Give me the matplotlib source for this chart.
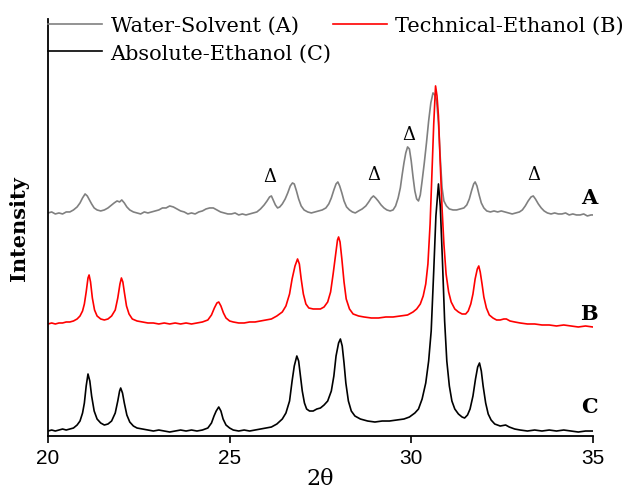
import matplotlib
matplotlib.use("Agg")
import matplotlib.pyplot as plt

# XRD patterns: (2-theta, intensity above own baseline, a.u.)
pattern_a = [
    (20.0, 0), (20.1, 1), (20.2, -1), (20.3, 0), (20.4, -1), (20.5, 1), (20.6, 1), (20.7, 3),
    (20.8, 6), (20.88, 10), (20.95, 15), (21.02, 19), (21.08, 17), (21.14, 13), (21.2, 9),
    (21.27, 5), (21.35, 3), (21.45, 2), (21.55, 3), (21.65, 5), (21.75, 8), (21.82, 10),
    (21.9, 12), (21.97, 11), (22.03, 13), (22.1, 10), (22.17, 6), (22.25, 3), (22.35, 1),
    (22.45, 0), (22.55, -1), (22.65, 1), (22.75, 0), (22.85, 1), (22.95, 2), (23.05, 3),
    (23.15, 5), (23.25, 5), (23.35, 7), (23.45, 6), (23.55, 4), (23.65, 2), (23.75, 1),
    (23.85, -1), (23.95, 0), (24.05, -1), (24.15, 1), (24.25, 2), (24.35, 4), (24.45, 5),
    (24.55, 5), (24.65, 3), (24.75, 1), (24.85, 0), (24.95, -1), (25.05, -1), (25.15, 0),
    (25.25, -2), (25.35, -1), (25.45, -2), (25.55, -1), (25.65, 0), (25.75, 1), (25.85, 4),
    (25.95, 8), (26.03, 12), (26.1, 16), (26.15, 17), (26.2, 13), (26.26, 8), (26.32, 5),
    (26.38, 6), (26.45, 9), (26.53, 14), (26.6, 20), (26.67, 27), (26.73, 30), (26.78, 29),
    (26.84, 22), (26.9, 14), (26.97, 7), (27.05, 3), (27.15, 1), (27.25, 0), (27.35, 1),
    (27.45, 2), (27.55, 3), (27.65, 5), (27.73, 9), (27.8, 15), (27.87, 23), (27.93, 29),
    (27.98, 31), (28.03, 27), (28.09, 20), (28.15, 12), (28.22, 6), (28.3, 3), (28.38, 1),
    (28.46, 0), (28.55, 2), (28.65, 4), (28.75, 7), (28.83, 11), (28.9, 15), (28.96, 17),
    (29.02, 15), (29.09, 12), (29.17, 8), (29.25, 5), (29.33, 3), (29.42, 2), (29.5, 3),
    (29.57, 7), (29.64, 15), (29.7, 25), (29.75, 38), (29.8, 50), (29.85, 60), (29.9, 66),
    (29.95, 64), (30.0, 52), (30.05, 36), (30.1, 22), (30.15, 14), (30.2, 12), (30.25, 18),
    (30.3, 32), (30.36, 50), (30.42, 70), (30.48, 92), (30.54, 110), (30.6, 120), (30.65, 118),
    (30.7, 112), (30.75, 90), (30.8, 55), (30.85, 25), (30.9, 12), (30.97, 7), (31.05, 4),
    (31.15, 3), (31.25, 3), (31.35, 4), (31.45, 5), (31.53, 8), (31.6, 14), (31.66, 22),
    (31.72, 29), (31.76, 31), (31.81, 27), (31.87, 18), (31.93, 10), (32.0, 5), (32.08, 2),
    (32.18, 1), (32.28, 2), (32.38, 1), (32.48, 2), (32.58, 1), (32.68, 0), (32.78, -1),
    (32.88, 0), (32.98, 1), (33.06, 3), (33.14, 7), (33.22, 12), (33.3, 16), (33.36, 17),
    (33.42, 14), (33.5, 9), (33.58, 5), (33.66, 2), (33.75, 0), (33.85, -1), (33.95, 0),
    (34.05, -1), (34.15, -1), (34.25, 0), (34.35, -2), (34.45, -1), (34.55, -2), (34.65, -2),
    (34.75, -1), (34.85, -3), (34.95, -2), (35.0, -2),
]

pattern_b = [
    (20.0, 0), (20.1, 1), (20.2, 0), (20.3, 1), (20.4, 1), (20.5, 2), (20.6, 2), (20.7, 3),
    (20.8, 5), (20.88, 8), (20.95, 13), (21.0, 20), (21.05, 32), (21.1, 46), (21.13, 49),
    (21.17, 42), (21.22, 26), (21.28, 14), (21.35, 8), (21.45, 5), (21.55, 4), (21.65, 5),
    (21.75, 8), (21.85, 14), (21.92, 26), (21.98, 40), (22.02, 46), (22.06, 42), (22.1, 32),
    (22.16, 18), (22.23, 10), (22.32, 5), (22.45, 3), (22.6, 2), (22.75, 1), (22.9, 1),
    (23.05, 0), (23.2, 1), (23.35, 0), (23.5, 1), (23.65, 0), (23.8, 1), (23.95, 0),
    (24.1, 1), (24.25, 2), (24.4, 4), (24.5, 9), (24.58, 16), (24.65, 21), (24.7, 22),
    (24.76, 18), (24.83, 11), (24.9, 6), (25.0, 3), (25.1, 2), (25.25, 1), (25.4, 1),
    (25.55, 2), (25.7, 2), (25.85, 3), (26.0, 4), (26.15, 5), (26.3, 8), (26.45, 12),
    (26.55, 18), (26.65, 30), (26.72, 45), (26.8, 58), (26.87, 65), (26.92, 60), (26.97, 45),
    (27.03, 30), (27.1, 20), (27.18, 16), (27.3, 15), (27.4, 15), (27.5, 15), (27.6, 17),
    (27.7, 22), (27.78, 32), (27.85, 50), (27.92, 70), (27.97, 84), (28.0, 87), (28.04, 82),
    (28.09, 65), (28.15, 42), (28.21, 25), (28.3, 15), (28.4, 10), (28.55, 8), (28.7, 7),
    (28.9, 6), (29.1, 6), (29.3, 7), (29.5, 7), (29.7, 8), (29.9, 9), (30.05, 12),
    (30.15, 15), (30.25, 20), (30.33, 28), (30.4, 40), (30.46, 60), (30.52, 100),
    (30.57, 150), (30.62, 200), (30.67, 238), (30.71, 228), (30.75, 208), (30.8, 160),
    (30.85, 115), (30.9, 80), (30.96, 50), (31.03, 32), (31.1, 22), (31.2, 15), (31.3, 12),
    (31.4, 10), (31.5, 10), (31.57, 13), (31.64, 20), (31.7, 30), (31.76, 45), (31.82, 55),
    (31.86, 58), (31.9, 52), (31.95, 40), (32.0, 27), (32.07, 16), (32.15, 9), (32.25, 6),
    (32.35, 4), (32.45, 4), (32.55, 5), (32.62, 5), (32.72, 3), (32.85, 2), (33.0, 1),
    (33.2, 0), (33.4, 0), (33.6, -1), (33.8, -1), (34.0, -2), (34.2, -1), (34.4, -2),
    (34.6, -3), (34.8, -2), (35.0, -3),
]

pattern_c = [
    (20.0, 0), (20.1, 1), (20.2, 0), (20.3, 1), (20.4, 2), (20.5, 1), (20.6, 2), (20.7, 3),
    (20.8, 6), (20.88, 10), (20.95, 18), (21.0, 28), (21.05, 45), (21.1, 57), (21.15, 50),
    (21.2, 35), (21.27, 20), (21.35, 12), (21.45, 8), (21.55, 6), (21.65, 7), (21.75, 10),
    (21.85, 18), (21.92, 30), (21.97, 40), (22.0, 43), (22.05, 38), (22.1, 28), (22.17, 16),
    (22.25, 9), (22.35, 5), (22.45, 3), (22.6, 2), (22.75, 1), (22.9, 0), (23.05, 1),
    (23.2, 0), (23.35, -1), (23.5, 0), (23.65, 1), (23.8, 0), (23.95, 1), (24.1, 0),
    (24.25, 1), (24.4, 3), (24.5, 8), (24.57, 15), (24.63, 20), (24.7, 24), (24.76, 20),
    (24.82, 12), (24.9, 6), (25.0, 3), (25.1, 1), (25.25, 0), (25.4, 1), (25.55, 0),
    (25.7, 1), (25.85, 2), (26.0, 3), (26.15, 4), (26.3, 7), (26.45, 12), (26.55, 18),
    (26.65, 30), (26.72, 50), (26.78, 65), (26.85, 75), (26.9, 70), (26.95, 55), (27.0, 40),
    (27.06, 28), (27.12, 22), (27.2, 20), (27.3, 20), (27.4, 22), (27.5, 23), (27.6, 26),
    (27.7, 30), (27.8, 40), (27.87, 55), (27.93, 75), (28.0, 88), (28.05, 92), (28.1, 85),
    (28.15, 68), (28.2, 48), (28.27, 30), (28.35, 20), (28.45, 15), (28.6, 12), (28.8, 10),
    (29.0, 9), (29.2, 10), (29.4, 10), (29.6, 11), (29.8, 12), (29.95, 14), (30.1, 18),
    (30.2, 22), (30.3, 32), (30.4, 48), (30.48, 70), (30.55, 100), (30.62, 160),
    (30.68, 215), (30.75, 247), (30.8, 225), (30.86, 170), (30.92, 110), (30.98, 70),
    (31.05, 45), (31.12, 30), (31.2, 22), (31.3, 17), (31.4, 14), (31.47, 13), (31.55, 16),
    (31.62, 22), (31.7, 35), (31.77, 52), (31.83, 64), (31.88, 68), (31.93, 60), (31.98, 45),
    (32.05, 28), (32.12, 17), (32.2, 11), (32.3, 7), (32.45, 5), (32.6, 6), (32.7, 4),
    (32.85, 2), (33.0, 1), (33.2, 0), (33.4, 1), (33.6, 0), (33.8, 1), (34.0, 0), (34.2, 1),
    (34.4, 0), (34.6, -1), (34.8, 0), (35.0, 0),
]

series_names = ["Water-Solvent (A)", "Technical-Ethanol (B)", "Absolute-Ethanol (C)"]
series_tags = ["A", "B", "C"]
series_colors = ["#808080", "#ff0000", "#000000"]
offsets = [223, 112, 5]
tag_y = [239, 123, 30]
delta_pos = [(26.12, 260), (28.96, 262), (29.93, 302), (33.37, 262)]

serif = ["DejaVu Serif"]
sans = ["Liberation Sans", "DejaVu Sans"]

fig = plt.figure(figsize=(6.24, 4.89), dpi=100)
ax = fig.add_axes([0.077, 0.1063, 0.873, 0.853])

lines = []
for pat, name, col, off in zip([pattern_a, pattern_b, pattern_c], series_names,
                               series_colors, offsets):
    xs = [p[0] for p in pat]
    ys = [p[1] + off for p in pat]
    ln, = ax.plot(xs, ys, color=col, lw=1.2, label=name)
    lines.append(ln)

for x, y in delta_pos:
    ax.text(x, y, "Δ", family=serif, fontsize=13, ha="center", va="center")

for tag, y in zip(series_tags, tag_y):
    ax.text(34.9, y, tag, family=serif, fontsize=15, fontweight="bold",
            ha="center", va="center")

ax.set_xlim(20, 35)
ax.set_ylim(0, 417)
ax.set_xticks([20, 25, 30, 35])
ax.set_yticks([])
ax.tick_params(axis="x", direction="out", length=5, width=1.2, labelsize=15)
for lab in ax.get_xticklabels():
    lab.set_family(sans)
for s in ["top", "right"]:
    ax.spines[s].set_visible(False)
for s in ["left", "bottom"]:
    ax.spines[s].set_linewidth(1.3)

ax.set_xlabel("2θ", family=serif, fontsize=16, labelpad=0)
ax.set_ylabel("Intensity", family=serif, fontsize=15, fontweight="bold", labelpad=14)

# order A, C, B so that A and B share the first row
leg = ax.legend(handles=[lines[0], lines[2], lines[1]], ncol=2, loc="upper left",
                bbox_to_anchor=(0.0, 1.007), frameon=False,
                prop={"family": serif, "size": 15},
                handlelength=2.6, handletextpad=0.4, columnspacing=0.05,
                labelspacing=0.4, borderaxespad=0.0, borderpad=0.0)

fig.savefig("out.png", dpi=100)
